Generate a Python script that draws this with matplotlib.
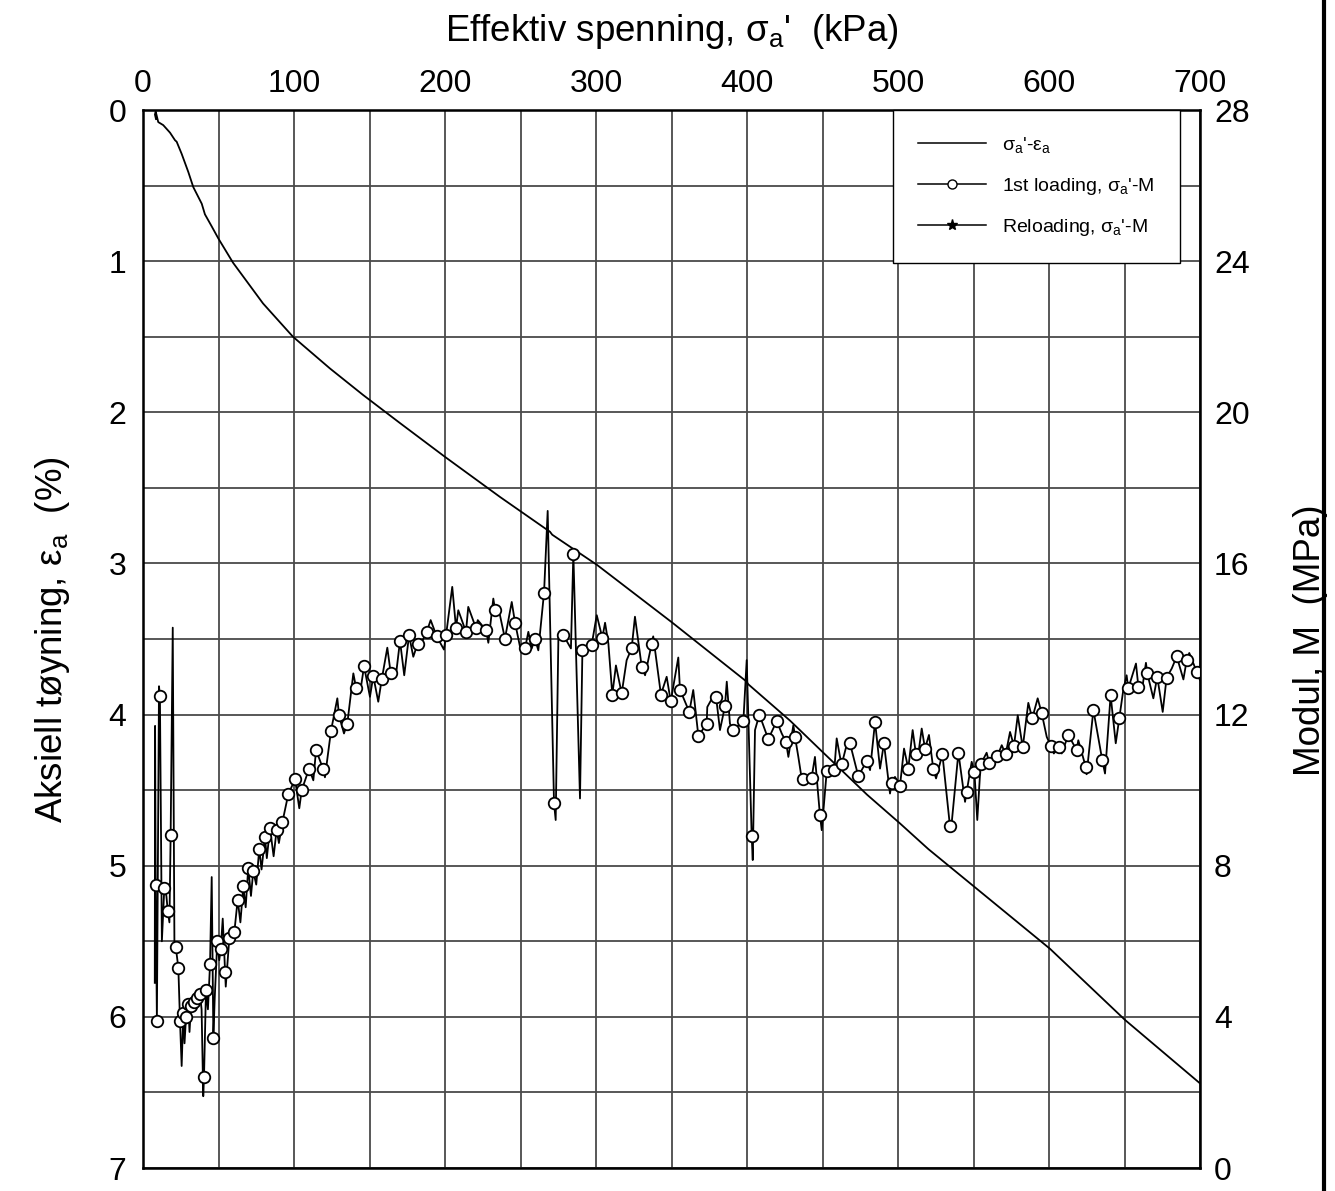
import matplotlib
matplotlib.use('Agg')
import matplotlib.pyplot as plt
from matplotlib.lines import Line2D
import numpy as np

plt.rcParams['font.family'] = ['Liberation Sans', 'DejaVu Sans']
plt.rcParams['mathtext.fontset'] = 'custom'
plt.rcParams['mathtext.rm'] = 'Liberation Sans'
plt.rcParams['mathtext.it'] = 'Liberation Sans'
plt.rcParams['mathtext.default'] = 'regular'

# stress-strain curve (kPa, %)
sig_eps = [8.6, 7.9, 8.4, 10.1, 13.4, 17.9, 21.2, 22.3, 25.6, 30.0, 33.3, 38.9, 41.0,
           45.5, 49.9, 59.6, 79.5, 99.3, 123.8, 145.7, 170, 200, 236.4, 268.0, 269.5,
           271.0, 300.7, 350.3, 399.5, 400.9, 428.5, 450.3, 479.5, 501.3, 520.1,
           600.7, 650.3, 700]
eps_a = [0.06, 0.03, 0.01, 0.08, 0.10, 0.15, 0.20, 0.21, 0.29, 0.41, 0.51, 0.62, 0.69,
         0.77, 0.85, 1.01, 1.28, 1.50, 1.71, 1.885, 2.07, 2.295, 2.56, 2.78, 2.79,
         2.81, 3.01, 3.39, 3.78, 3.80, 4.04, 4.25, 4.53, 4.72, 4.89,
         5.55, 6.02, 6.44]

# 1st loading modulus, points shown with circles (kPa, MPa)
sig_circ = [8.4, 9.2, 11.2, 14.1, 16.4, 18.3, 21.7, 23.4, 24.5, 26.7, 28.5, 30.0, 31.8,
            33.8, 35.6, 37.7, 40.4, 41.7, 44.4, 46.6, 49.2, 51.5, 54.3, 57.2, 60.5,
            62.7, 66.4, 69.7, 73.0, 77.0, 80.8, 84.1, 88.5, 92.3,
            96.2, 100.7, 105.1, 110.0, 114.6, 119.4, 124.5, 129.8, 135.3, 141.1, 146.4,
            152.5, 158.1, 164.0, 170.2, 176.2, 181.9, 187.9, 194.5, 200.7, 207.3, 213.9,
            220.5, 227.2, 233.1, 239.7, 246.4, 253.0, 259.6, 265.6, 272.2, 278.4, 285.0,
            291.0, 297.1, 304.2, 310.8, 317.0, 323.6, 330.3, 336.9, 343.0, 349.5, 355.6,
            361.8, 367.8, 373.3, 379.5, 385.4, 390.9, 397.6, 403.1, 408.2, 414.1, 419.7,
            425.8, 431.8, 437.3, 442.8, 448.3, 452.8, 457.8, 462.7, 468.2, 473.7, 479.3,
            484.8, 490.7, 495.8, 501.3,
            506.8, 511.9, 517.9, 523.4, 529.4, 534.4, 540.0, 545.5, 550.6, 554.7,
            560.5, 565.8, 571.3, 576.8, 582.6, 588.9, 595.2, 601.3, 606.8, 612.8,
            618.3, 624.3, 629.4, 635.3, 640.8, 646.6, 652.5, 659.2, 665.1, 671.7,
            677.9, 684.6, 691.2, 697.8]
mod_circ = [7.5, 3.9, 12.5, 7.4, 6.8, 8.8, 5.85, 5.3, 3.9, 4.1, 4.0, 4.35, 4.3,
            4.4, 4.5, 4.6, 2.4, 4.7, 5.4, 3.45, 6.0, 5.8, 5.2, 6.1, 6.25,
            7.1, 7.45, 7.95, 7.85, 8.45, 8.75, 9.0, 8.95, 9.15,
            9.89, 10.29, 10.0, 10.57, 11.06, 10.55, 11.57, 11.98, 11.76, 12.71, 13.28,
            13.02, 12.93, 13.11, 13.95, 14.1, 13.88, 14.19, 14.07, 14.1, 14.29, 14.19,
            14.29, 14.23, 14.78, 14.01, 14.43, 13.75, 14.0, 15.23, 9.65, 14.1, 16.26,
            13.7, 13.84, 14.03, 12.53, 12.56, 13.75, 13.26, 13.88, 12.53, 12.35, 12.66,
            12.07, 11.43, 11.76, 12.47, 12.22, 11.59, 11.83, 8.79, 12.0, 11.35, 11.83,
            11.28, 11.41, 10.29, 10.33, 9.34, 10.5, 10.53, 10.68, 11.24, 10.37, 10.77,
            11.81, 11.24, 10.18, 10.11,
            10.57, 10.95, 11.10, 10.55, 10.95, 9.05, 10.99, 9.96, 10.48, 10.68,
            10.71, 10.90, 10.95, 11.17, 11.13, 11.90, 12.03, 11.16, 11.15, 11.46,
            11.06, 10.62, 12.12, 10.79, 12.51, 11.92, 12.69, 12.73, 13.09, 13.0,
            12.98, 13.54, 13.44, 13.13]

# 1st loading modulus, line vertices between the circles
sig_vert = [7.8, 8.0, 10.6, 12.5, 15.5, 17.5, 19.7, 20.8, 25.6, 27.5, 30.8, 38.8, 39.9,
            43.0, 45.5, 47.5, 50.5, 52.8, 54.8, 64.5, 68.0, 71.5, 75.0, 78.5, 82.0, 86.5,
            90.0, 103.5, 112.8, 120.5, 128.7, 133.1, 139.3, 143.7, 150.3, 155.8, 161.8,
            167.5, 173.0, 179.0, 184.6, 190.5, 199.3, 204.8, 208.8, 215.4, 221.7, 228.7,
            232.0, 236.4, 244.2, 249.7, 255.2, 257.4, 261.8, 268.0, 273.3, 275.1, 283.4,
            289.4, 300.5, 306.0, 308.2, 313.2, 320.3, 325.8, 332.5, 337.9, 346.8, 354.5,
            364.4, 373.7, 377.7, 382.1, 386.6, 388.7, 399.8, 403.8, 405.3, 423.0, 427.4,
            430.7, 434.0, 436.2, 445.0, 449.5, 459.4, 461.6, 467.1, 481.5, 488.1, 494.7,
            498.0, 504.0, 509.7, 513.5, 515.7, 520.5, 525.2, 535.1, 544.4, 548.8, 552.5,
            558.7, 568.7, 574.2, 579.3, 586.3, 592.5, 598.5, 603.2, 608.4, 619.4,
            624.9, 637.1, 644.2, 649.2, 651.4, 657.6, 661.4, 664.2, 669.1, 675.3,
            681.3, 689.0, 692.9, 700.0]
mod_vert = [4.9, 11.7, 12.75, 6.0, 7.2, 6.5, 14.3, 6.0, 2.7, 3.3, 3.6, 4.2, 1.9,
            4.2, 7.7, 4.5, 5.5, 6.6, 4.8, 6.5, 6.9, 7.2, 7.5, 7.9, 8.2, 8.25,
            8.6, 9.52, 10.26, 10.34, 12.43, 11.5, 13.09, 12.56, 12.47, 12.34, 13.77,
            13.04, 13.04, 13.53, 13.92, 14.5, 13.72, 15.38, 14.76, 14.85, 14.5, 13.9,
            15.07, 14.63, 14.98, 13.79, 14.19, 13.75, 13.7, 17.39, 9.21, 14.06, 13.75,
            9.78, 14.63, 14.43, 13.88, 13.3, 13.44, 14.59, 13.04, 14.07, 13.0, 13.51,
            12.65, 12.2, 12.49, 11.59, 12.87, 11.76, 13.44, 8.15, 11.59, 11.5, 10.88,
            11.72, 10.88, 10.31, 10.88, 8.94, 11.37, 10.88, 11.37, 10.53, 10.57, 9.91,
            10.35, 11.1, 11.59, 10.97, 11.63, 11.46, 10.31, 8.94, 9.69, 10.75, 9.21,
            10.99, 11.19, 11.54, 11.98, 12.31, 12.43, 11.41, 10.97, 10.97, 11.32,
            10.42, 10.44, 11.24, 12.65, 13.04, 13.35, 12.60, 13.37, 12.43, 12.07,
            13.22, 12.93, 13.63, 12.91]

fig = plt.figure(figsize=(13.35, 11.91), dpi=100)
ax = fig.add_axes([143 / 1335, 1 - 1168 / 1191, 1057 / 1335, 1058 / 1191])
ax2 = ax.twinx()

ax.set_xlim(0, 700)
ax.set_ylim(7, 0)
ax.xaxis.tick_top()
ax.set_xticks(np.arange(0, 701, 100))
ax.set_xticks(np.arange(0, 701, 50), minor=True)
ax.set_yticks(np.arange(0, 8, 1))
ax.set_yticks(np.arange(0, 7.01, 0.5), minor=True)
ax.grid(True, which='both', color='#4a4a4a', lw=1.3)
ax.tick_params(which='both', length=0, labelsize=23)
ax.tick_params(axis='x', pad=8)
ax.tick_params(axis='y', pad=12)
for s in ax.spines.values():
    s.set_linewidth(1.8)

ax.plot(sig_eps, eps_a, color='k', lw=1.3)

ax2.set_ylim(0, 28)
ax2.set_yticks(np.arange(0, 29, 4))
ax2.tick_params(length=0, labelsize=23, pad=10)

sig_all = np.concatenate([sig_circ, sig_vert])
mod_all = np.concatenate([mod_circ, mod_vert])
order = np.argsort(sig_all, kind='stable')
ax2.plot(sig_all[order], mod_all[order], color='k', lw=1.3)
ax2.plot(sig_circ, mod_circ, ls='none', marker='o', ms=8.3, mfc='white', mec='k', mew=1.3)

handles = [
    Line2D([], [], color='k', lw=1.1),
    Line2D([], [], color='k', lw=1.1, marker='o', ms=6.5, mfc='white', mec='k'),
    Line2D([], [], color='k', lw=1.1, marker='*', ms=8, mfc='k', mec='k'),
]
labels = ["σ$_a$'-ε$_a$", "1st loading, σ$_a$'-M", "Reloading, σ$_a$'-M"]
leg = ax2.legend(handles, labels, loc='upper right', bbox_to_anchor=(1037 / 1057, 1.0),
                 borderaxespad=0, fancybox=False, framealpha=1, edgecolor='k',
                 prop={'size': 14}, handlelength=3.5, handletextpad=0.85,
                 labelspacing=1.05, borderpad=1.3)
leg.get_frame().set_linewidth(1.0)

fig.text(672 / 1335, 1 - 41 / 1191, "Effektiv spenning, σ$_a$'  (kPa)", fontsize=26.5,
         ha='center', va='baseline')
fig.text(62 / 1335, 1 - 640 / 1191, "Aksiell tøyning, ε$_a$  (%)", fontsize=26.5,
         rotation=90, rotation_mode='anchor', ha='center', va='baseline')
fig.text(1320 / 1335, 1 - 640 / 1191, "Modul, M  (MPa)", fontsize=26.5,
         rotation=90, rotation_mode='anchor', ha='center', va='baseline')
fig.add_artist(Line2D([1323.5 / 1335] * 2, [0, 1], transform=fig.transFigure,
                      color='k', lw=3))

fig.savefig('out.png', dpi=100)
